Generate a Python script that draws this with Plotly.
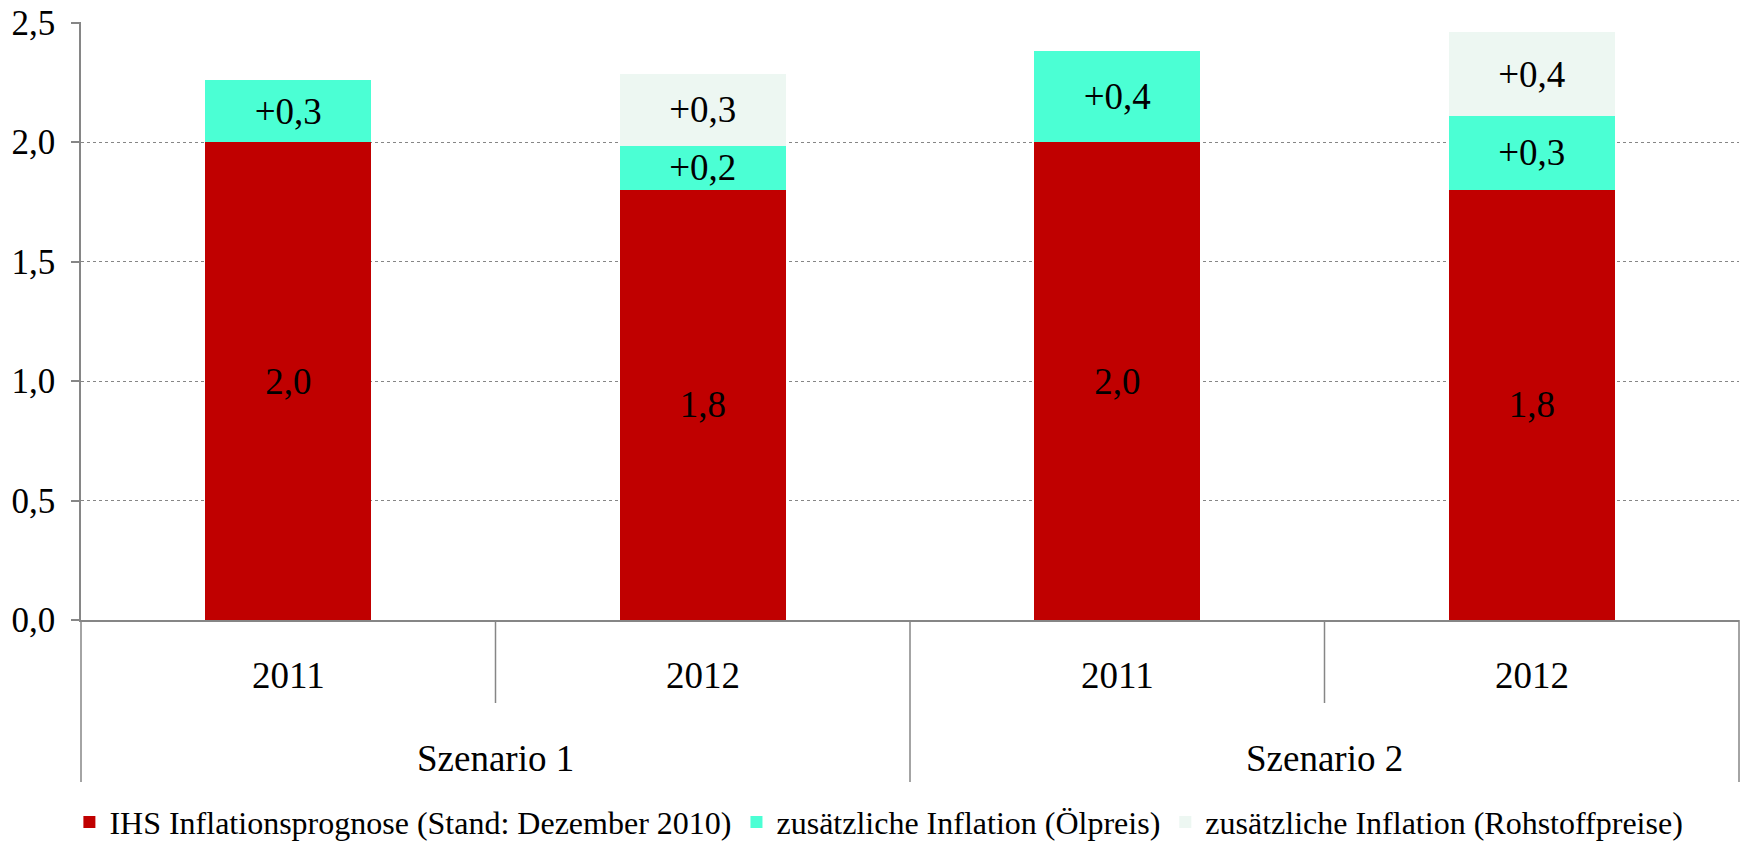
import plotly.graph_objects as go

# ---- data ----
scenarios = ["Szenario 1", "Szenario 1", "Szenario 2", "Szenario 2"]
years = ["2011", "2012", "2011", "2012"]
ihs = [2.0, 1.8, 2.0, 1.8]
oil = [0.26, 0.185, 0.38, 0.31]
rohstoff = [None, 0.30, None, 0.35]
ihs_labels = ["2,0", "1,8", "2,0", "1,8"]
oil_labels = ["+0,3", "+0,2", "+0,4", "+0,3"]
roh_labels = ["", "+0,3", "", "+0,4"]
series_names = ["IHS Inflationsprognose (Stand: Dezember 2010)",
                "zusätzliche Inflation (Ölpreis)",
                "zusätzliche Inflation (Rohstoffpreise)"]
y_ticks = [0.0, 0.5, 1.0, 1.5, 2.0, 2.5]

cats = [f"{s} {y}" for s, y in zip(scenarios, years)]

FONT = "Liberation Serif, Times New Roman, serif"
GRAY = "#868686"
colors = ["#C00000", "#4BFFD4", "#EDF7F2"]

fig = go.Figure()
for vals, labels, name, col in zip([ihs, oil, rohstoff],
                                   [ihs_labels, oil_labels, roh_labels],
                                   series_names, colors):
    fig.add_trace(go.Bar(
        x=cats, y=vals, name=name, text=labels,
        marker=dict(color=col, line=dict(width=0)),
        textposition="inside", insidetextanchor="middle",
        textangle=0, constraintext="none",
        insidetextfont=dict(family=FONT, size=37, color="black"),
        hoverinfo="skip",
    ))

annotations = []
# year labels
for c, yv in zip(cats, years):
    annotations.append(dict(x=c, xref="x", y=-0.0936, yref="paper",
                            text=yv, showarrow=False, yanchor="middle",
                            font=dict(family=FONT, size=37, color="black")))
# scenario labels
for i, s in enumerate(["Szenario 1", "Szenario 2"]):
    annotations.append(dict(x=2 * i + 0.5, xref="x", y=-0.2308, yref="paper",
                            text=s, showarrow=False, yanchor="middle",
                            font=dict(family=FONT, size=37, color="black")))

shapes = []
line = dict(color=GRAY, width=1.5)
# short dividers between years
for xv in [0.5, 2.5]:
    shapes.append(dict(type="line", xref="x", yref="paper", x0=xv, x1=xv,
                       y0=0, y1=-0.1388, line=line))
# long dividers
shapes.append(dict(type="line", xref="x", yref="paper", x0=1.5, x1=1.5,
                   y0=0, y1=-0.2709, line=line))
for xp in [0, 1]:
    shapes.append(dict(type="line", xref="paper", yref="paper", x0=xp, x1=xp,
                       y0=0, y1=-0.2709, line=line))

fig.update_layout(
    width=1745, height=843,
    barmode="stack", bargap=0.6,
    paper_bgcolor="white", plot_bgcolor="white",
    margin=dict(l=81, r=6, t=22, b=223, autoexpand=False),
    separators=",.",
    font=dict(family=FONT, size=32, color="black"),
    xaxis=dict(type="category", showticklabels=False, ticks="",
               showline=True, linecolor=GRAY, linewidth=2,
               showgrid=False, zeroline=False, range=[-0.5, 3.5]),
    yaxis=dict(range=[0, 2.503], tickvals=y_ticks, tickformat=".1f",
               showline=True, linecolor=GRAY, linewidth=1.5,
               ticks="outside", ticklen=8, tickcolor=GRAY, tickwidth=1.5,
               showgrid=True, gridcolor=GRAY, gridwidth=1, griddash="dot",
               zeroline=False, ticklabelstandoff=9,
               ticklabeloverflow="allow",
               tickfont=dict(family=FONT, size=35, color="black")),
    legend=dict(orientation="h", x=-0.007, xanchor="left",
                y=-0.338, yanchor="middle", traceorder="normal",
                font=dict(family=FONT, size=32, color="black"),
                itemwidth=30, tracegroupgap=0),
    annotations=annotations, shapes=shapes,
    showlegend=True,
)

fig.write_html("out.html",
               config={"displayModeBar": False},
               post_script="document.body.style.margin='0';")
